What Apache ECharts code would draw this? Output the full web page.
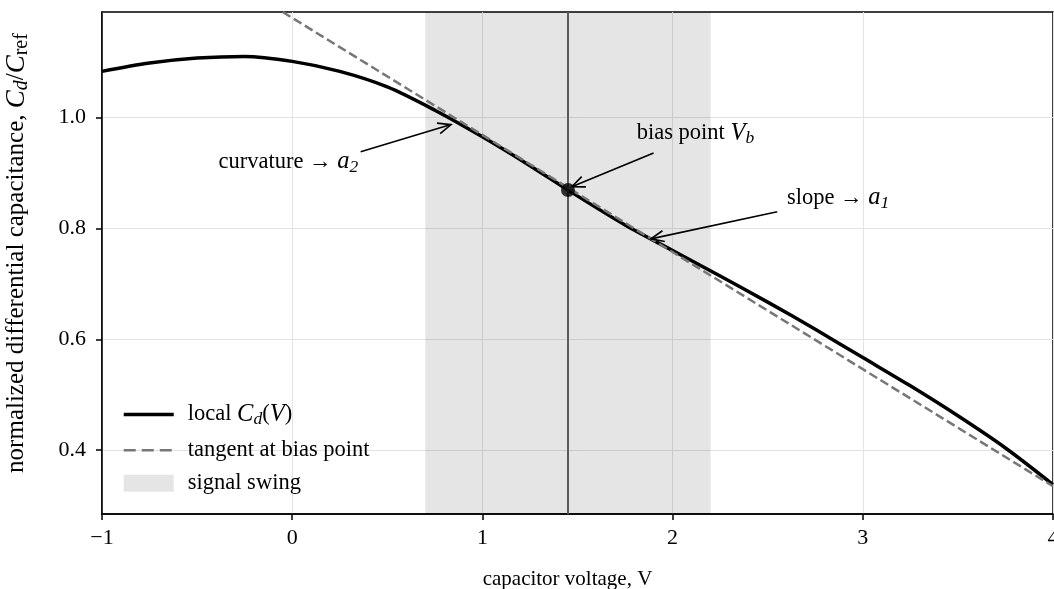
<!DOCTYPE html>
<html>
<head>
<meta charset="utf-8">
<script src="https://cdn.jsdelivr.net/npm/echarts@6/dist/echarts.min.js"></script>
<style>
  html, body { margin: 0; padding: 0; background: #fff; }
  #chart { width: 1054px; height: 589px; }
</style>
</head>
<body>
<div id="chart"></div>
<script>
// values
const voltage = [-1, -0.75, -0.5, -0.25, 0, 0.25, 0.5, 0.75, 1, 1.25, 1.45, 1.75, 2, 2.25, 2.5, 2.75, 3, 3.25, 3.5, 3.75, 4];
const capLocal = [1.083, 1.098, 1.107, 1.110, 1.101, 1.083, 1.055, 1.013, 0.965, 0.913, 0.869, 0.806, 0.760, 0.714, 0.667, 0.618, 0.567, 0.516, 0.462, 0.404, 0.338];
const tangentX = [-0.05, 4];
const tangentY = [1.19, 0.335];
const biasV = 1.45;
const biasC = 0.869;
const swing = [0.7, 2.2];
const xTicks = [-1, 0, 1, 2, 3, 4];
const yTicks = [0.4, 0.6, 0.8, 1.0];

// annotations: text anchor, arrow start, arrow tip (data coords)
const annLabels = ['{t|curvature }{t|→ }{i|a}{s|2}', '{t|bias point }{i|V}{s|b}', '{t|slope }{t|→ }{i|a}{s|1}'];
const annTextX = [-0.02, 2.12, 2.87];
const annTextY = [0.920, 0.971, 0.855];
const annFromX = [0.36, 1.90, 2.55];
const annFromY = [0.938, 0.936, 0.830];
const annTipX = [0.835, 1.47, 1.886];
const annTipY = [0.987, 0.875, 0.781];

const serif = "'Liberation Serif', 'DejaVu Serif', serif";

const mathRich = function(size) {
  const lh = size + 6;
  return {
    t: { fontFamily: serif, fontSize: size, color: '#000', lineHeight: lh, verticalAlign: 'middle' },
    i: { fontFamily: serif, fontSize: size + 2, fontStyle: 'italic', color: '#000', lineHeight: lh, verticalAlign: 'middle' },
    s: { fontFamily: serif, fontSize: size - 5, fontStyle: 'italic', color: '#000', lineHeight: lh, verticalAlign: 'bottom' },
    sr: { fontFamily: serif, fontSize: size - 5, color: '#000', lineHeight: lh, verticalAlign: 'bottom' }
  };
};

const legendNames = {
  curve: '{t|local }{i|C}{s|d}{t|(}{i|V}{t|)}',
  tangent: '{t|tangent at bias point}',
  swing: '{t|signal swing}'
};

const chart = echarts.init(document.getElementById('chart'));

const option = {
  animation: false,
  backgroundColor: '#fff',
  grid: {
    left: 102, right: 1, top: 12, bottom: 75,
    outerBoundsMode: 'none',
    containLabel: false,
    show: true, borderColor: '#000', borderWidth: 1.5, backgroundColor: 'transparent'
  },
  legend: {
    orient: 'vertical',
    left: 122,
    top: 402,
    padding: 0,
    itemWidth: 50,
    itemHeight: 17,
    itemGap: 10,
    selectedMode: false,
    itemStyle: { opacity: 0 },
    formatter: name => legendNames[name],
    textStyle: { rich: mathRich(22.5), padding: [0, 0, 0, 9] },
    data: [
      { name: 'curve', lineStyle: { width: 3.5, color: '#000' } },
      { name: 'tangent', lineStyle: { width: 2.5, color: '#777', type: [12, 6] } },
      { name: 'swing', icon: 'rect', itemStyle: { color: 'rgba(0,0,0,0.1)', opacity: 1, borderWidth: 0 } }
    ]
  },
  xAxis: {
    type: 'value',
    min: -1, max: 4, interval: 1,
    name: 'capacitor voltage, V',
    nameLocation: 'middle',
    nameGap: 55,
    nameTextStyle: { fontFamily: serif, fontSize: 21, color: '#000', padding: [0, 20, 0, 0] },
    axisLine: { show: true, onZero: false, lineStyle: { color: '#000', width: 1.5 } },
    axisTick: { show: true, length: 6, lineStyle: { color: '#000', width: 1.5 }, customValues: xTicks },
    axisLabel: {
      customValues: xTicks,
      margin: 13, fontFamily: serif, fontSize: 22, color: '#000',
      formatter: v => String(v).replace('-', '\u2212')
    },
    splitLine: { show: true, lineStyle: { color: '#e3e3e3', width: 1 } }
  },
  yAxis: {
    type: 'value',
    min: 0.285, max: 1.19,
    name: '{t|normalized differential capacitance, }{i|C}{s|d}{t|/}{i|C}{sr|ref}',
    nameLocation: 'middle',
    nameGap: 70,
    nameTextStyle: { rich: mathRich(25), padding: [0, 0, 0, 20] },
    axisLine: { show: true, onZero: false, lineStyle: { color: '#000', width: 1.5 } },
    axisTick: { show: true, length: 6, lineStyle: { color: '#000', width: 1.5 }, customValues: yTicks },
    axisLabel: {
      customValues: yTicks,
      margin: 16, fontFamily: serif, fontSize: 22, color: '#000',
      formatter: v => v.toFixed(1)
    },
    splitLine: { show: true, lineStyle: { color: '#e3e3e3', width: 1 } }
  },
  series: [
    {
      name: 'swing',
      type: 'line',
      data: [],
      color: 'rgba(0,0,0,0.1)',
      silent: true,
      markArea: {
        silent: true,
        itemStyle: { color: 'rgba(0,0,0,0.1)' },
        data: [[{ xAxis: swing[0] }, { xAxis: swing[1] }]]
      },
      markLine: {
        silent: true,
        symbol: 'none',
        label: { show: false },
        lineStyle: { color: '#5a5a5a', width: 2, type: 'solid' },
        data: [{ xAxis: biasV }]
      }
    },
    {
      name: 'tangent',
      type: 'line',
      data: tangentX.map((x, i) => [x, tangentY[i]]),
      showSymbol: false,
      symbol: 'none',
      color: '#777',
      lineStyle: { color: '#777', width: 2.5, type: [9, 4] },
      z: 3
    },
    {
      name: 'curve',
      type: 'line',
      data: voltage.map((x, i) => [x, capLocal[i]]),
      smooth: 0.3,
      showSymbol: false,
      symbol: 'none',
      color: '#000',
      lineStyle: { color: '#000', width: 3.5 },
      z: 2
    },
    {
      name: 'bias',
      type: 'scatter',
      data: [[biasV, biasC]],
      symbolSize: 14,
      itemStyle: { color: '#000' },
      z: 5
    },
    {
      name: 'notes',
      type: 'custom',
      clip: false,
      silent: true,
      z: 6,
      data: annTipX.map((x, i) => [x, annTipY[i]]),
      renderItem: function(params, api) {
        const i = params.dataIndex;
        const tip = api.coord([annTipX[i], annTipY[i]]);
        const from = api.coord([annFromX[i], annFromY[i]]);
        const txt = api.coord([annTextX[i], annTextY[i]]);
        const dx = tip[0] - from[0], dy = tip[1] - from[1];
        const len = Math.sqrt(dx * dx + dy * dy);
        const ux = dx / len, uy = dy / len;
        const hl = 13, hw = 5.5;
        const bx = tip[0] - ux * hl, by = tip[1] - uy * hl;
        const p1 = [bx - uy * hw, by + ux * hw];
        const p2 = [bx + uy * hw, by - ux * hw];
        return {
          type: 'group',
          children: [
            { type: 'line', shape: { x1: from[0], y1: from[1], x2: tip[0], y2: tip[1] }, style: { stroke: '#000', lineWidth: 1.6 } },
            { type: 'polyline', shape: { points: [p1, tip, p2] }, style: { stroke: '#000', lineWidth: 1.6, fill: null } },
            {
              type: 'text',
              style: {
                text: annLabels[i], x: txt[0], y: txt[1],
                align: 'center', verticalAlign: 'middle',
                rich: mathRich(22.5)
              }
            }
          ]
        };
      }
    }
  ]
};

chart.setOption(option);
</script>
</body>
</html>
